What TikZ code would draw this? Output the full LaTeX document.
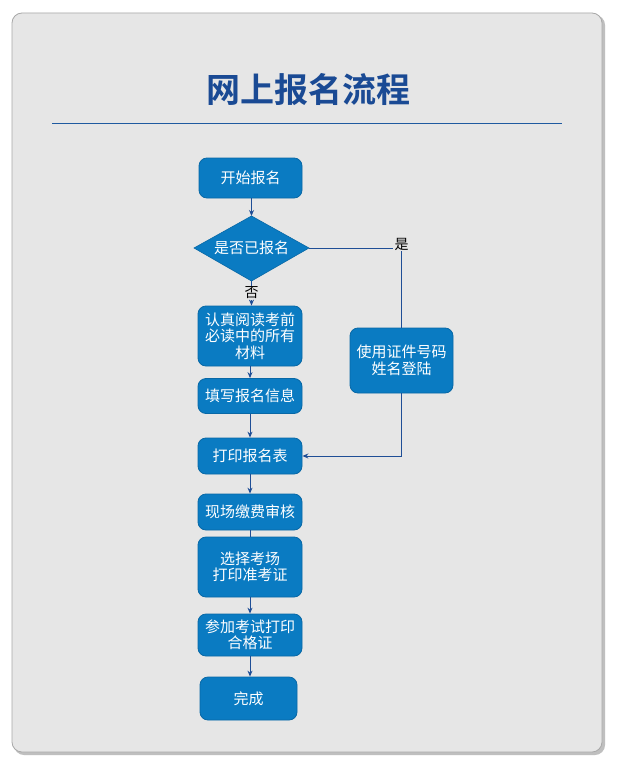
\documentclass[tikz,border=0pt]{standalone}
\usepackage{fontspec}
\usetikzlibrary{arrows.meta,shapes.geometric}
\newfontfamily\cjk{Noto Sans CJK SC}
\newfontfamily\cjkbold{Noto Sans CJK SC Bold}
\definecolor{panelbg}{HTML}{E6E6E6}
\definecolor{panelline}{HTML}{A8A8A8}
\definecolor{boxfill}{HTML}{0A7BC2}
\definecolor{boxedge}{HTML}{0868A6}
\definecolor{linkcol}{HTML}{1F4E96}
\definecolor{titlecol}{HTML}{1A4A94}
\definecolor{rulecol}{HTML}{1F5AA0}
\tikzset{
  flowbox/.style={rectangle, rounded corners=8pt, fill=boxfill, draw=boxedge, line width=0.8pt,
    text=white, font=\cjk\fontsize{15}{16.5}\selectfont, align=center, inner sep=0pt},
  decidefill/.style={fill=boxfill, draw=boxedge, line width=0.6pt},
  decidetext/.style={text=white, font=\cjk\fontsize{15}{17}\selectfont, inner sep=0pt},
  lbl/.style={font=\cjk\fontsize{14}{16}\selectfont, text=black, fill=panelbg, inner sep=1pt},
  link/.style={draw=linkcol, line width=1pt},
  linkarr/.style={link, -{Stealth[length=6pt,width=5pt]}}
}
\begin{document}
\begin{tikzpicture}[x=1pt,y=-1pt]
\useasboundingbox (0,0) rectangle (617,765);
\fill[white] (0,0) rectangle (617,765);
% panel shadow and panel
\fill[rounded corners=10pt, black!25] (14,15) rectangle (605,755);
\fill[rounded corners=10pt, panelbg, draw=panelline, line width=0.8pt] (12,13) rectangle (602,752);
% title
\node[text=titlecol, font=\cjkbold\fontsize{34}{40}\selectfont] (title) at (308,90) {网上报名流程};
\coordinate (rl) at (52,124);
\coordinate (rr) at (562,124);
\draw[rulecol, line width=1pt] (rl) -- (rr);
% decision diamond
\coordinate (askN) at (251.5,216);
\coordinate (askE) at (309,248);
\coordinate (askS) at (251.5,281);
\coordinate (askW) at (194,248);
\path[decidefill] (askN) -- (askE) -- (askS) -- (askW) -- cycle;
\node[decidetext] (ask) at (251.5,248) {是否已报名};
% nodes
\node[flowbox, minimum width=103pt, minimum height=40pt] (start) at (250.5,178) {开始报名};
\node[flowbox, minimum width=104pt, minimum height=60pt] (read) at (250,336) {认真阅读考前\\必读中的所有\\材料};
\node[flowbox, minimum width=104pt, minimum height=35pt] (fill) at (250,396) {填写报名信息};
\node[flowbox, minimum width=104pt, minimum height=36pt] (print) at (250,456) {打印报名表};
\node[flowbox, minimum width=104pt, minimum height=36pt] (pay) at (250,512) {现场缴费审核};
\node[flowbox, minimum width=104pt, minimum height=60pt] (choose) at (250,567) {选择考场\\打印准考证};
\node[flowbox, minimum width=104pt, minimum height=42pt] (exam) at (250,635) {参加考试打印\\合格证};
\node[flowbox, minimum width=97pt, minimum height=43pt] (done) at (248.5,698.5) {完成};
\node[flowbox, minimum width=103pt, minimum height=65pt] (login) at (401.5,360.5) {使用证件号码\\姓名登陆};
% labels
\node[lbl] (yes) at (401.5,244) {是};
\node[lbl] (no) at (251.5,293) {否};
% connectors
\draw[linkarr] (start.south -| askN) -- (askN);
\draw[link] (askE) -- (askE -| yes.west);
\draw[link] (yes.south) -- (login.north);
\draw[link] (askS) -- (no.north);
\draw[linkarr] (no.south) -- (read.north -| no.south);
\draw[linkarr] (read) -- (fill);
\draw[linkarr] (fill) -- (print);
\draw[linkarr] (login.south) |- (print.east);
\draw[linkarr] (print) -- (pay);
\draw[link] (pay) -- (choose);
\draw[linkarr] (choose) -- (exam);
\draw[linkarr] (exam.south) -- (exam.south |- done.north);
\end{tikzpicture}
\end{document}
